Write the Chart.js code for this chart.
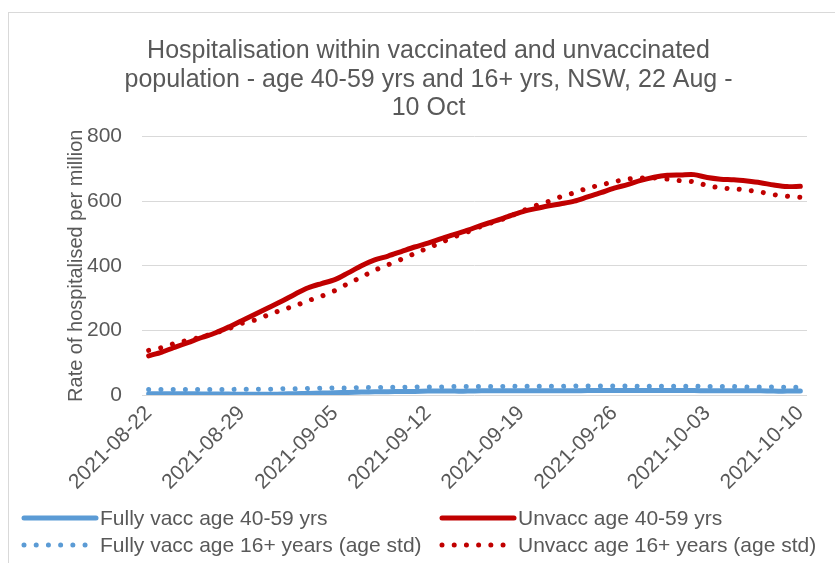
<!DOCTYPE html>
<html>
<head>
<meta charset="utf-8">
<script src="https://cdn.jsdelivr.net/npm/chart.js@4.4.1/dist/chart.umd.min.js"></script>
<style>
    body { margin: 0; background: #ffffff; overflow: hidden; }
    #wrap { position: relative; width: 835px; height: 563px; overflow: hidden; }
    #frame { position: absolute; left: 8px; top: 12px; width: 860px; height: 600px; border: 1px solid #d9d9d9; box-sizing: border-box; }
    #chart { position: absolute; left: 0; top: 0; }
</style>
</head>
<body>
<div id="wrap">
    <div id="frame"></div>
    <canvas id="chart" width="835" height="563"></canvas>
</div>
<script>
// Daily dates, 22 Aug - 10 Oct 2021
const dates = [
    '2021-08-22', '2021-08-23', '2021-08-24', '2021-08-25', '2021-08-26', '2021-08-27', '2021-08-28',
    '2021-08-29', '2021-08-30', '2021-08-31', '2021-09-01', '2021-09-02', '2021-09-03', '2021-09-04',
    '2021-09-05', '2021-09-06', '2021-09-07', '2021-09-08', '2021-09-09', '2021-09-10', '2021-09-11',
    '2021-09-12', '2021-09-13', '2021-09-14', '2021-09-15', '2021-09-16', '2021-09-17', '2021-09-18',
    '2021-09-19', '2021-09-20', '2021-09-21', '2021-09-22', '2021-09-23', '2021-09-24', '2021-09-25',
    '2021-09-26', '2021-09-27', '2021-09-28', '2021-09-29', '2021-09-30', '2021-10-01', '2021-10-02',
    '2021-10-03', '2021-10-04', '2021-10-05', '2021-10-06', '2021-10-07', '2021-10-08', '2021-10-09',
    '2021-10-10'
];

// Rate of hospitalised per million
const fullyVacc4059 = [
    4, 4, 4, 4, 3, 3, 3, 2, 2, 2,
    3, 4, 5, 6, 7, 8, 9, 10, 10, 11,
    11, 12, 12, 12, 12, 13, 13, 13, 13, 13,
    13, 13, 13, 14, 14, 14, 14, 14, 14, 14,
    14, 14, 13, 13, 13, 13, 13, 12, 12, 12
];
const unvacc4059 = [
    121, 133, 148, 163, 178, 192, 210, 230, 250, 270,
    290, 312, 332, 345, 357, 378, 400, 418, 430, 444,
    458, 470, 484, 497, 510, 525, 538, 552, 566, 576,
    585, 592, 600, 613, 626, 640, 651, 664, 674, 680,
    681, 682, 673, 668, 666, 662, 657, 650, 645, 646
];
const fullyVacc16 = [
    17, 17, 17, 17, 17, 17, 17, 18, 18, 18,
    19, 19, 20, 21, 22, 22, 23, 23, 24, 24,
    25, 25, 25, 26, 26, 26, 26, 27, 27, 27,
    27, 27, 28, 28, 28, 28, 28, 27, 27, 27,
    27, 27, 26, 26, 26, 25, 25, 25, 24, 24
];
const unvacc16 = [
    138, 147, 160, 170, 180, 192, 205, 222, 232, 248,
    263, 276, 292, 306, 323, 345, 365, 386, 403, 420,
    438, 455, 472, 490, 505, 522, 536, 550, 568, 585,
    598, 614, 626, 640, 650, 660, 668, 671, 672, 668,
    663, 660, 648, 641, 638, 634, 628, 620, 615, 612
];

const yTicks = [0, 200, 400, 600, 800];

const seriesLabels = [
    'Fully vacc age 40-59 yrs',
    'Unvacc age 40-59 yrs',
    'Fully vacc age 16+ years (age std)',
    'Unvacc age 16+ years (age std)'
];

const BLUE = '#5b9bd5';
const RED = '#c00000';
const TEXT = '#595959';
const GRID = '#d9d9d9';
const DOTS = [0.01, 12.2];
const FONT = '"Liberation Sans", Arial, sans-serif';

// Legend drawn as a 2x2 grid, like the original
const legendSlots = [
    { x: 22, y: 518 }, { x: 440, y: 518 },
    { x: 22, y: 545 }, { x: 440, y: 545 }
];

const gridLegend = {
    id: 'gridLegend',
    afterDraw(chart) {
        const ctx = chart.ctx;
        ctx.save();
        chart.data.datasets.forEach((ds, i) => {
            const slot = legendSlots[i];
            ctx.strokeStyle = ds.borderColor;
            ctx.lineWidth = ds.borderWidth;
            ctx.lineCap = 'round';
            ctx.setLineDash(ds.borderDash || []);
            ctx.beginPath();
            ctx.moveTo(slot.x + 2, slot.y);
            ctx.lineTo(slot.x + 74, slot.y);
            ctx.stroke();
            ctx.setLineDash([]);
            ctx.fillStyle = TEXT;
            ctx.font = '21px ' + FONT;
            ctx.textBaseline = 'middle';
            ctx.textAlign = 'left';
            ctx.fillText(ds.label, slot.x + 78, slot.y + 1);
        });
        ctx.restore();
    }
};

function createChart() {
    const ctx = document.getElementById('chart').getContext('2d');
    const common = { pointRadius: 0, borderWidth: 5, tension: 0.3, fill: false, borderCapStyle: 'round', borderJoinStyle: 'round' };
    return new Chart(ctx, {
        type: 'line',
        data: {
            labels: dates,
            datasets: [
                Object.assign({ label: seriesLabels[0], data: fullyVacc4059, borderColor: BLUE, order: 3 }, common),
                Object.assign({ label: seriesLabels[1], data: unvacc4059, borderColor: RED, order: 2 }, common),
                Object.assign({ label: seriesLabels[2], data: fullyVacc16, borderColor: BLUE, borderDash: DOTS, order: 1 }, common),
                Object.assign({ label: seriesLabels[3], data: unvacc16, borderColor: RED, borderDash: DOTS, order: 0 }, common)
            ]
        },
        options: {
            responsive: false,
            animation: false,
            layout: { padding: { left: 50, right: 28, top: 0, bottom: 64 } },
            plugins: {
                legend: { display: false },
                tooltip: { enabled: false },
                title: {
                    display: true,
                    text: [
                        'Hospitalisation within vaccinated and unvaccinated',
                        'population - age 40-59 yrs and 16+ yrs, NSW, 22 Aug -',
                        '10 Oct'
                    ],
                    color: TEXT,
                    font: { family: FONT, size: 25, weight: 'normal', lineHeight: 1.14 },
                    padding: { top: 37, bottom: 14 }
                }
            },
            scales: {
                x: {
                    offset: true,
                    grid: { display: false, drawTicks: false },
                    border: { display: false },
                    ticks: {
                        autoSkip: false,
                        minRotation: 45,
                        maxRotation: 45,
                        padding: 6,
                        color: TEXT,
                        font: { family: FONT, size: 21 },
                        callback: function (value, index) {
                            return index % 7 === 0 ? dates[index] : null;
                        }
                    },
                    afterFit: (scale) => { scale.height = 104; }
                },
                y: {
                    min: yTicks[0],
                    max: yTicks[yTicks.length - 1],
                    afterBuildTicks: (scale) => { scale.ticks = yTicks.map(v => ({ value: v })); },
                    grid: { color: GRID, lineWidth: 1, drawTicks: false },
                    border: { display: false },
                    ticks: {
                        padding: 20,
                        color: TEXT,
                        font: { family: FONT, size: 21 }
                    },
                    title: {
                        display: true,
                        text: 'Rate of hospitalised per million',
                        color: TEXT,
                        font: { family: FONT, size: 20 },
                        padding: { top: 14, bottom: 0 }
                    },
                    afterFit: (scale) => { scale.width = 92; }
                }
            }
        },
        plugins: [gridLegend]
    });
}

document.addEventListener('DOMContentLoaded', createChart);
</script>
</body>
</html>
